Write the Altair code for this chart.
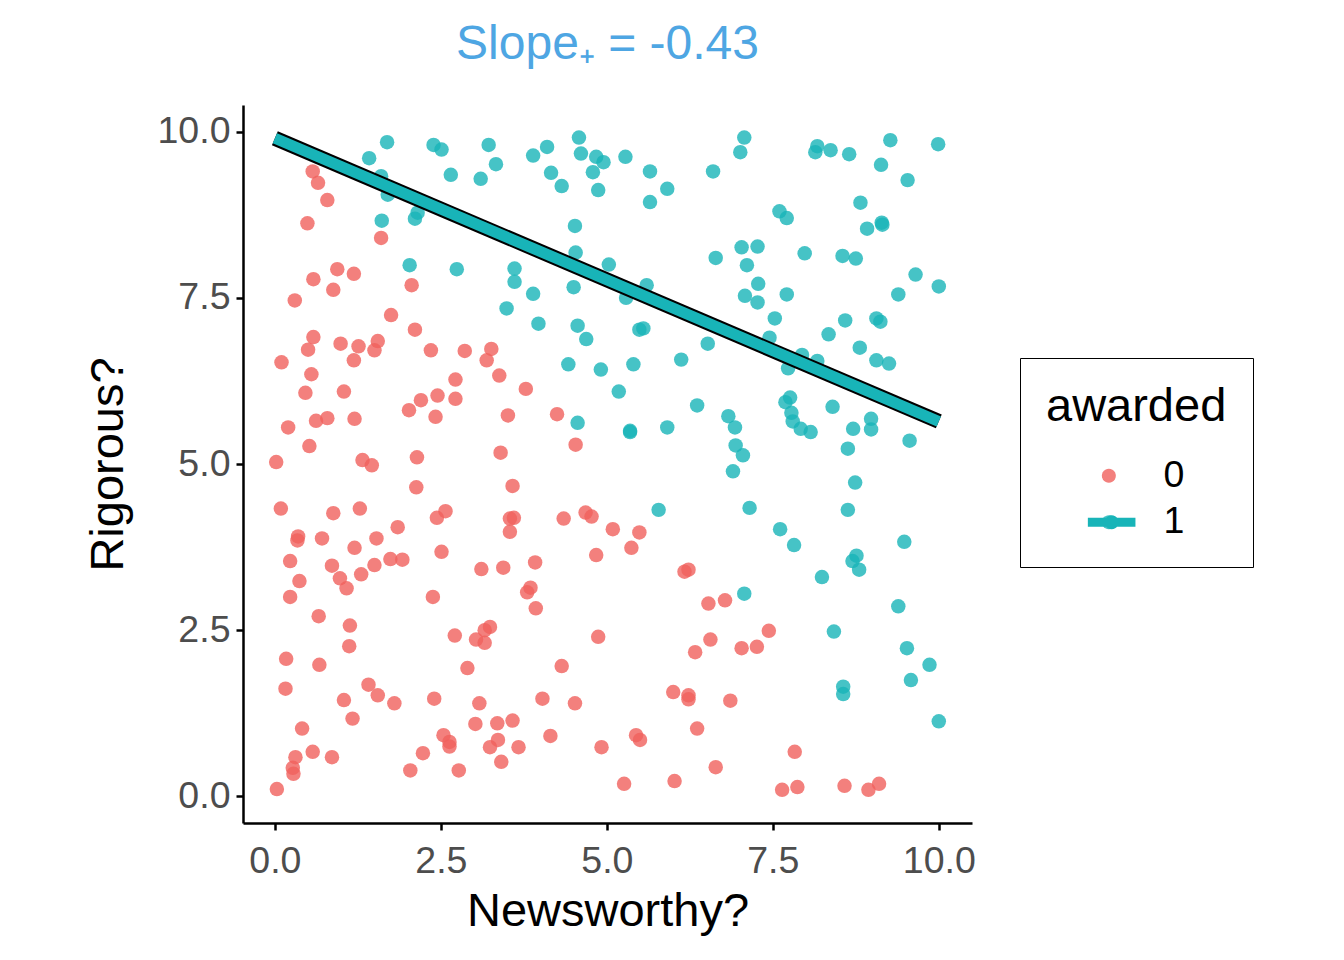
import math
import altair as alt
import pandas as pd

# awarded = 1 (teal)
x_awarded = [1.42, 1.69, 2.39, 2.51, 3.22, 3.33, 2.65, 3.10, 1.60, 1.70, 2.15, 2.11, 1.61, 2.03, 2.74,
             3.89, 4.10, 4.58, 4.61, 4.84, 4.95, 5.28, 5.65, 6.60, 4.16, 4.32, 4.79, 4.87, 5.91, 5.65,
             4.52, 4.53, 5.03, 5.60, 6.64, 3.61, 3.61, 3.89, 4.50, 5.29, 7.07, 7.01, 8.17, 8.14, 8.37,
             8.65, 9.27, 9.99, 9.13, 9.53, 8.82, 7.60, 7.71, 8.92, 9.14, 9.15, 7.03, 7.27, 7.11, 7.98,
             8.55, 8.75, 9.65, 10.00, 7.28, 7.08, 7.71, 9.39, 7.27, 3.49, 3.97, 4.56, 4.69, 5.49, 5.55,
             6.52, 4.42, 4.91, 5.40, 6.12, 5.18, 6.36, 6.83, 6.93, 6.94, 6.90, 4.56, 5.35, 5.35, 5.91,
             7.53, 8.59, 9.06, 9.12, 8.34, 7.45, 8.81, 7.94, 8.17, 7.73, 9.06, 9.25, 7.76, 7.69, 7.78,
             7.80, 8.40, 7.92, 8.07, 8.71, 8.98, 8.98, 9.56, 7.05, 8.63, 5.78, 8.74, 7.15, 8.63, 7.61,
             7.82, 9.48, 8.76, 8.70, 8.80, 8.24, 7.07, 9.39, 8.42, 9.52, 9.86, 9.58, 8.56, 8.56, 10.00]
y_awarded = [9.60, 9.84, 9.80, 9.73, 9.80, 9.51, 9.35, 9.29, 9.33, 9.05, 8.78, 8.69, 8.66, 7.99, 7.93,
             9.64, 9.77, 9.91, 9.67, 9.62, 9.54, 9.62, 9.40, 9.40, 9.38, 9.18, 9.39, 9.12, 9.14, 8.94,
             8.58, 8.18, 8.00, 7.69, 8.10, 7.94, 7.74, 7.56, 7.66, 7.50, 9.91, 9.69, 9.78, 9.69, 9.72,
             9.66, 9.87, 9.81, 9.50, 9.27, 8.93, 8.80, 8.70, 8.54, 8.63, 8.60, 8.26, 8.27, 7.99, 8.17,
             8.13, 8.09, 7.85, 7.67, 7.71, 7.53, 7.55, 7.55, 7.43, 7.34, 7.11, 7.08, 6.88, 7.02, 7.04,
             6.81, 6.50, 6.42, 6.50, 6.57, 6.09, 5.88, 5.72, 5.55, 5.28, 4.89, 5.62, 5.50, 5.48, 5.55,
             7.19, 7.16, 7.19, 7.14, 6.95, 6.90, 6.75, 6.64, 6.55, 6.44, 6.56, 6.51, 6.00, 5.93, 5.77,
             5.64, 5.86, 5.53, 5.48, 5.53, 5.68, 5.52, 5.35, 5.13, 5.23, 4.31, 4.72, 4.34, 4.31, 4.02,
             3.78, 3.83, 3.62, 3.54, 3.41, 3.30, 3.05, 2.86, 2.48, 2.23, 1.98, 1.75, 1.65, 1.54, 1.13]

# awarded = 0 (red)
x_not = [0.57, 0.65, 0.79, 0.49, 1.60, 0.94, 1.19, 0.58, 0.88, 2.06, 0.30, 1.75, 2.11, 0.58, 0.50,
         0.99, 1.26, 1.55, 1.50, 1.19, 2.35, 2.86, 3.26, 3.19, 3.38, 0.10, 0.55, 0.46, 1.04, 2.72,
         2.45, 2.20, 2.72, 2.02, 2.42, 0.62, 0.79, 1.20, 0.20, 0.52, 0.02, 1.32, 1.46, 2.14, 3.40,
         3.78, 3.51, 4.25, 4.53, 2.13, 0.09, 0.88, 1.28, 2.44, 2.57, 1.85, 0.35, 0.34, 0.71, 1.53,
         1.20, 2.51, 0.23, 0.86, 1.50, 1.74, 1.92, 1.30, 0.98, 1.08, 0.37, 0.23, 2.38, 3.11, 3.44,
         0.66, 1.13, 2.71, 3.24, 3.16, 3.03, 3.16, 1.12, 3.58, 3.54, 3.60, 3.54, 4.35, 4.68, 4.77,
         5.09, 5.49, 5.37, 4.84, 3.92, 3.85, 3.80, 3.93, 6.17, 6.23, 6.53, 6.78, 4.87, 6.56, 6.33,
         7.03, 7.26, 7.44, 0.17, 0.67, 2.90, 0.16, 1.41, 1.55, 1.04, 1.80, 2.40, 3.08, 1.17, 3.02,
         3.35, 0.41, 2.54, 2.63, 2.63, 3.36, 3.24, 3.41, 0.57, 0.86, 0.31, 0.27, 0.28, 2.23, 2.04,
         2.77, 0.03, 4.32, 4.03, 4.52, 6.00, 6.23, 6.23, 6.86, 3.58, 3.67, 4.15, 4.92, 5.44, 5.50,
         6.36, 6.64, 5.26, 6.02, 7.83, 7.64, 7.87, 8.58, 8.94, 9.10]
y_not = [9.40, 9.23, 8.97, 8.62, 8.40, 7.93, 7.86, 7.78, 7.62, 7.69, 7.46, 7.24, 7.02, 6.91, 6.72,
         6.81, 6.77, 6.85, 6.71, 6.56, 6.71, 6.70, 6.73, 6.56, 6.33, 6.53, 6.35, 6.07, 6.09, 6.27,
         6.03, 5.96, 5.98, 5.81, 5.71, 5.65, 5.69, 5.68, 5.55, 5.27, 5.03, 5.06, 4.98, 5.10, 5.17,
         6.13, 5.73, 5.75, 5.29, 4.65, 4.33, 4.26, 4.33, 4.19, 4.29, 4.05, 3.91, 3.85, 3.88, 3.88,
         3.74, 3.68, 3.54, 3.47, 3.48, 3.57, 3.56, 3.34, 3.28, 3.13, 3.24, 3.00, 3.00, 3.42, 3.44,
         2.71, 2.57, 2.42, 2.55, 2.50, 2.36, 2.31, 2.26, 4.67, 4.18, 4.19, 3.98, 4.18, 4.27, 4.21,
         4.02, 3.97, 3.74, 3.63, 3.52, 3.14, 3.07, 2.83, 3.38, 3.41, 2.90, 2.95, 2.40, 2.36, 2.17,
         2.23, 2.25, 2.49, 2.07, 1.98, 1.93, 1.62, 1.68, 1.52, 1.45, 1.40, 1.47, 1.40, 1.17, 1.09,
         1.10, 1.02, 0.92, 0.82, 0.75, 0.85, 0.74, 0.52, 0.67, 0.59, 0.59, 0.43, 0.34, 0.65, 0.39,
         0.39, 0.11, 1.96, 1.47, 1.40, 1.57, 1.52, 1.46, 1.44, 1.14, 0.74, 0.91, 0.74, 0.92, 0.85,
         1.02, 0.44, 0.19, 0.23, 0.67, 0.10, 0.14, 0.16, 0.10, 0.19]

groups = ["0", "1"]
group_colors = ["#f0605c", "#18b4b8"]
axis_ticks = [0, 2.5, 5, 7.5, 10]
title_text = "Slope\u208a = -0.43"
# fitted line for awarded = 1 (slope -0.43)
fit_x = [0, 10]
fit_y = [9.90, 5.64]

df = pd.DataFrame({
    "Newsworthy": x_not + x_awarded,
    "Rigorous": y_not + y_awarded,
    "awarded": [groups[0]] * len(x_not) + [groups[1]] * len(x_awarded),
})
fit_df = pd.DataFrame({"Newsworthy": fit_x, "Rigorous": fit_y})

FONT = "Liberation Sans"

x_enc = alt.X(
    "Newsworthy:Q",
    scale=alt.Scale(domain=[-0.48, 10.5], nice=False, zero=False),
    axis=alt.Axis(title="Newsworthy?", values=axis_ticks, format=".1f",
                  labelPadding=12, titleBaseline="alphabetic", titleY=102),
)
y_enc = alt.Y(
    "Rigorous:Q",
    scale=alt.Scale(domain=[-0.4, 10.4], nice=False, zero=False),
    axis=alt.Axis(title="Rigorous?", values=axis_ticks, format=".1f",
                  labelPadding=6, titleBaseline="alphabetic", titleX=-121),
)


def circle_path(cx, r=1.0, n=24):
    return " ".join(
        ("M" if i == 0 else "L")
        + f"{cx + r * math.cos(2 * math.pi * i / n):.3f},{r * math.sin(2 * math.pi * i / n):.3f}"
        for i in range(n)
    ) + " Z"


# legend keys sit to the right inside the key area, as in the reference
DX_DOT = 6.3
DX_BAR = 6.7
DOT_PATH = circle_path(DX_DOT)
BAR_PATH = (f"M{DX_BAR - 3.4:.2f},-0.65 L{DX_BAR + 3.4:.2f},-0.65 L{DX_BAR + 3.4:.2f},0.65 "
            f"L{DX_BAR - 3.4:.2f},0.65 Z " + circle_path(DX_BAR))
NO_PATH = f"M{DX_BAR:.2f},0 L{DX_BAR:.2f},0 Z"

# visible legend: title, labels, box and the coloured dots
legend_main = alt.Legend(
    title="awarded", orient="none", legendX=777, legendY=253,
    titleFont=FONT, titleFontSize=47, titleFontWeight="normal", titleColor="black",
    titlePadding=26, titleLimit=400, labelFont=FONT, labelFontSize=37.5, labelColor="black",
    labelOffset=80, padding=26, rowPadding=7.5, strokeColor="black", symbolSize=196,
    symbolType=DOT_PATH,
)

points = alt.Chart(df).mark_circle(size=210, opacity=0.8).encode(
    x=x_enc, y=y_enc,
    color=alt.Color("awarded:N", scale=alt.Scale(domain=groups, range=group_colors), legend=legend_main),
)

line_outline = alt.Chart(fit_df).mark_line(color="black", strokeWidth=15, strokeCap="butt").encode(x=x_enc, y=y_enc)
line_fill = alt.Chart(fit_df).mark_line(color=group_colors[1], strokeWidth=11, strokeCap="butt").encode(x=x_enc, y=y_enc)

# second legend only adds the line key of group "1" behind the same rows
legend_line = alt.Legend(
    title="awarded", orient="right", offset=48,
    titleFont=FONT, titleFontSize=47, titleFontWeight="normal", titleColor="transparent",
    titlePadding=279, titleLimit=400, labelFont=FONT, labelFontSize=37.5, labelColor="transparent",
    labelOffset=80, padding=26, rowPadding=7.5, symbolSize=196, symbolFillColor=group_colors[1],
)

legend_layer = alt.Chart(df).mark_point(filled=True, size=196, opacity=0, color=group_colors[1]).encode(
    x=x_enc, y=y_enc,
    shape=alt.Shape("awarded:N", scale=alt.Scale(domain=groups, range=[NO_PATH, BAR_PATH]), legend=legend_line),
)

chart = alt.layer(points, line_outline, line_fill, legend_layer).properties(
    width=729, height=718,
    title=alt.TitleParams(text=title_text, font=FONT, fontSize=48, fontWeight="normal",
                          color="#4ea6e3", anchor="middle", offset=36),
    autosize=alt.AutoSizeParams(type="none"),
    padding={"left": 235, "top": 97, "right": 350, "bottom": 120},
).configure_view(stroke=None).configure_axis(
    grid=False, domainColor="black", domainWidth=2.5, tickColor="black", tickWidth=2.5,
    tickSize=7, labelFont=FONT, labelFontSize=37.5, labelColor="#4d4d4d",
    titleFont=FONT, titleFontSize=47, titleFontWeight="normal", titleColor="black",
)

chart.save("out.html", embed_options={"renderer": "svg", "actions": False})
